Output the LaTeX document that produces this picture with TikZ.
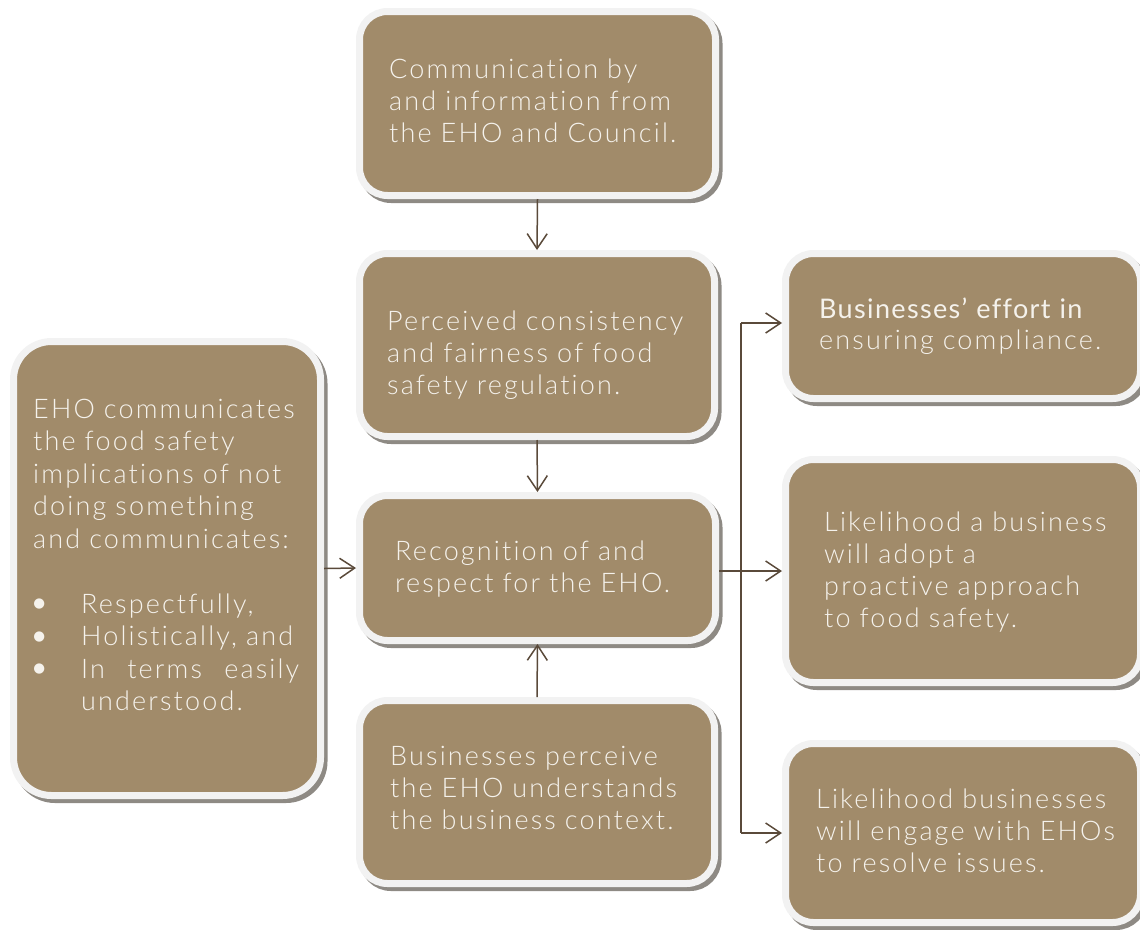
\documentclass[tikz,border=0pt]{standalone}
\usepackage{fontspec}
\setmainfont{Lato Light}[LetterSpace=8, Ligatures={NoCommon,NoRare}]
\newfontfamily\regf{Lato}[LetterSpace=5, Ligatures={NoCommon,NoRare}]
\usetikzlibrary{arrows.meta}
\definecolor{boxbrown}{HTML}{A18B6A}
\definecolor{boxedge}{HTML}{F2F2F2}
\definecolor{boxshadow}{HTML}{8E8A84}
\definecolor{arrowcol}{HTML}{5A4A3A}
\definecolor{txtcol}{HTML}{F5F2EC}
\newcommand{\bulletmark}{\makebox[48pt][l]{\hspace*{-4pt}\smash{\raisebox{-1.5pt}{\fontsize{35}{0}\selectfont\textbullet}}}}
\begin{document}
\begin{tikzpicture}[x=1pt,y=-1pt,
  box/.style={rectangle, rounded corners=28pt, fill=boxbrown, draw=boxedge, line width=7pt,
    preaction={draw=boxshadow, fill=boxshadow, line width=7pt, transform canvas={shift={(3.5pt,-4pt)}}}},
  txt/.style={anchor=base west, inner sep=0pt, text width=340pt, align=left, text=txtcol,
    font=\fontsize{27}{32.3}\selectfont},
  conn/.style={draw=arrowcol, line width=1.5pt},
  arr/.style={conn, -{Straight Barb[length=15pt,width=20pt,line width=1.5pt]}}]
\useasboundingbox (0,0) rectangle (1140,929);
% boxes
\node[box, minimum width=356pt, minimum height=184pt] (b1) at (537.5,103.5) {};
\node[box, minimum width=355pt, minimum height=183pt] (b2) at (537,345) {};
\node[box, minimum width=356pt, minimum height=145pt] (b3) at (537.5,568) {};
\node[box, minimum width=355pt, minimum height=183pt] (b4) at (537,792) {};
\node[box, rounded corners=38pt, minimum width=307pt, minimum height=454pt] (lb) at (167,568.5) {};
\node[box, minimum width=355pt, minimum height=145pt] (r1) at (963,326) {};
\node[box, minimum width=355pt, minimum height=223pt] (r2) at (963,571) {};
\node[box, minimum width=355pt, minimum height=179pt] (r3) at (963,833) {};
% texts
\node[txt] (t1) at (389,78) {Communication by\\and information from\\the EHO and Council.};
\node[txt] (t2) at (387,330) {Perceived consistency\\and fairness of food\\safety regulation.};
\node[txt] (t3) at (395,560) {Recognition of and\\respect for the EHO.};
\node[txt] (t4) at (390,765) {Businesses perceive\\the EHO understands\\the business context.};
\node[txt, font=\fontsize{27}{31}\selectfont] (tr1) at (819,318) {{\regf Businesses’ effort in}\\ensuring compliance.};
\node[txt] (tr2) at (824,531) {Likelihood a business\\will adopt a\\proactive approach\\to food safety.};
\node[txt] (tr3) at (816,808) {Likelihood businesses\\will engage with EHOs\\to resolve issues.};
\node[txt, font=\fontsize{27}{32.5}\selectfont] (tl) at (33,418) {EHO communicates\\the food safety\\implications of not\\doing something\\and communicates:\\[32.5pt]
\bulletmark Respectfully,\\
\bulletmark Holistically, and\\
\bulletmark\hbox to 218pt{In\hfill terms\hfill easily}\\
\hspace*{48pt}understood.};
% connectors
\coordinate (jt) at (741,323);
\coordinate (jm) at (741,571);
\coordinate (jb) at (741,833);
\draw[arr] (b1.south) -- (b2.north);
\draw[arr] (b2.south) -- (b3.north);
\draw[arr] (b4.north) -- (b3.south);
\draw[arr] (lb.east) -- (b3.west);
\draw[conn] (b3.east |- jm) -- (jm);
\draw[conn] (jt) -- (jb);
\draw[arr] (jt) -- (jt -| r1.west);
\draw[arr] (jm) -- (jm -| r2.west);
\draw[arr] (jb) -- (jb -| r3.west);
\end{tikzpicture}
\end{document}
